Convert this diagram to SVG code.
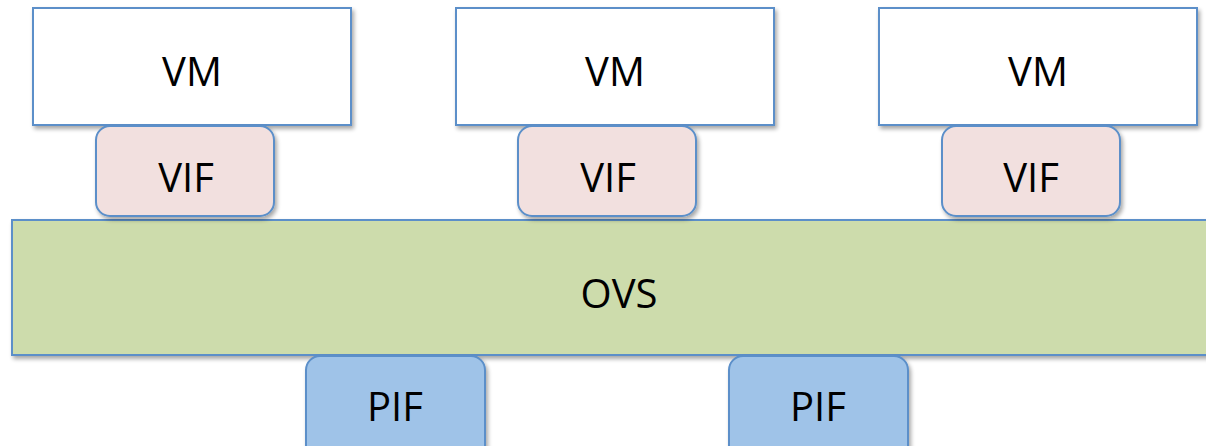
<svg xmlns="http://www.w3.org/2000/svg" width="1206" height="446" viewBox="0 0 1206 446">
<defs>
<filter id="sh" x="-10%" y="-10%" width="130%" height="140%">
<feGaussianBlur in="SourceAlpha" stdDeviation="2"/>
<feOffset dx="2" dy="3" result="b"/>
<feComponentTransfer><feFuncA type="linear" slope="0.35"/></feComponentTransfer>
<feMerge><feMergeNode/><feMergeNode in="SourceGraphic"/></feMerge>
</filter>
</defs>
<style>
.box{stroke:#5b8fc9;stroke-width:2;filter:url(#sh)}
.vm{fill:#ffffff}
.vif{fill:#f2e0df}
.ovs{fill:#cddcac}
.pif{fill:#9fc3e8}
text{font-family:"Open Sans","Noto Sans",sans-serif;font-size:40px;fill:#000;text-anchor:middle}
</style>
<rect width="1206" height="446" fill="#ffffff"/>
<g id="connectors"></g>
<g id="vm1"><rect class="box vm" x="33" y="8" width="318" height="117"/><text x="192" y="86">VM</text></g>
<g id="vm2"><rect class="box vm" x="456" y="8" width="318" height="117"/><text x="615" y="86">VM</text></g>
<g id="vm3"><rect class="box vm" x="879" y="8" width="318" height="117"/><text x="1038" y="86">VM</text></g>
<g id="ovs"><rect class="box ovs" x="12" y="220" width="1210" height="135"/><text x="619" y="308">OVS</text></g>
<g id="vif1"><rect class="box vif" x="96" y="126" width="178" height="90" rx="14"/><text x="186" y="192">VIF</text></g>
<g id="vif2"><rect class="box vif" x="518" y="126" width="178" height="90" rx="14"/><text x="608" y="192">VIF</text></g>
<g id="vif3"><rect class="box vif" x="942" y="126" width="178" height="90" rx="14"/><text x="1031" y="192">VIF</text></g>
<g id="pif1"><rect class="box pif" x="306" y="356" width="179" height="110" rx="14"/><text x="395" y="421">PIF</text></g>
<g id="pif2"><rect class="box pif" x="729" y="356" width="179" height="110" rx="14"/><text x="818" y="421">PIF</text></g>
</svg>
